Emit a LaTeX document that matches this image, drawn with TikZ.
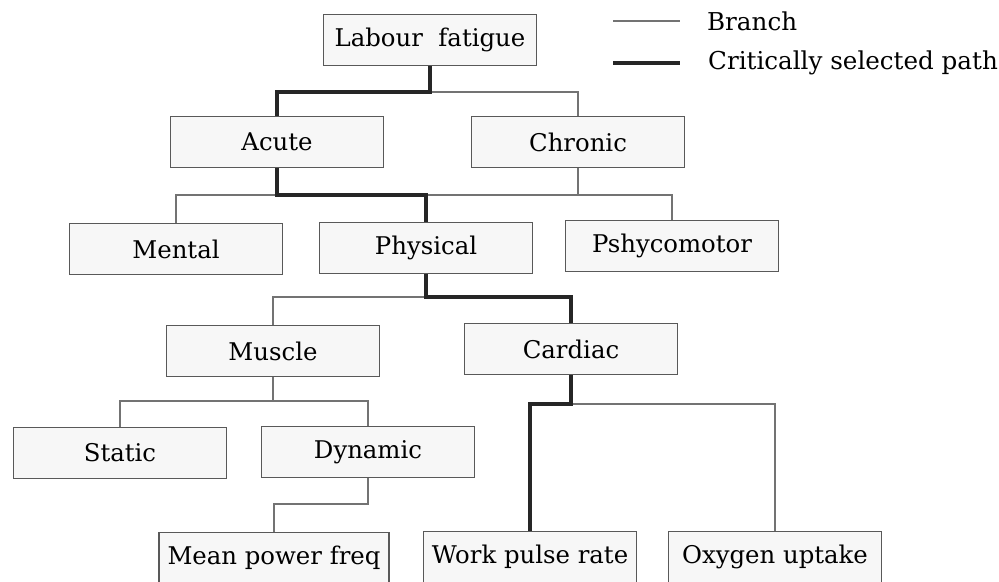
\documentclass[tikz,border=0pt]{standalone}
\usepackage{fontspec}
\setmainfont{DejaVu Serif}
\usetikzlibrary{calc}

\tikzset{
  box/.style={draw=black!65, fill=black!3, line width=0.6pt, minimum width=3.2cm, minimum height=0.76cm, inner sep=1pt, font=\fontsize{10.4}{12}\selectfont},
  branch/.style={draw=black!55, line width=0.5pt},
  critical/.style={draw=black!85, line width=1.4pt},
  legendtext/.style={right=8pt, anchor=west, font=\fontsize{10.5}{12}\selectfont}
}

\begin{document}
\begin{tikzpicture}[x=0.015cm, y=-0.015cm]
            \useasboundingbox (0,0) rectangle (999,581);

            % Boxes of the tree
            \node[box] (labour) at (430,40) {Labour\ \ fatigue};
            \node[box] (acute) at (277,142) {Acute};
            \node[box] (chronic) at (578,142) {Chronic};
            \node[box] (mental) at (176,249) {Mental};
            \node[box] (physical) at (426,248) {Physical};
            \node[box] (pshyco) at (672,246) {Pshycomotor};
            \node[box] (muscle) at (273,351) {Muscle};
            \node[box] (cardiac) at (571,349) {Cardiac};
            \node[box] (static) at (120,453) {Static};
            \node[box] (dynamic) at (368,452) {Dynamic};
            \node[box, minimum width=3.45cm] (meanpf) at (274,558) {Mean power freq};
            \node[box] (work) at (530,557) {Work pulse rate};
            \node[box] (oxygen) at (775,557) {Oxygen uptake};

            % Junctions
            \coordinate (j1) at (430,92);
            \coordinate (j2) at (277,195);
            \coordinate (j3) at (578,195);
            \coordinate (j4) at (426,297);
            \coordinate (j5) at (273,401);
            \coordinate (j6) at (368,504);
            \coordinate (j7) at (571,404);

            % Branches
            \draw[branch] (j1) -| (chronic.north);
            \draw[branch] (j2) -| (mental.north);
            \draw[branch] (chronic.south) -- (j3);
            \draw[branch] (j2) -| (pshyco.north);
            \draw[branch] (j4) -| (muscle.north);
            \draw[branch] (muscle.south) -- (j5) -| (static.north);
            \draw[branch] (j5) -| (dynamic.north);
            \draw[branch] (dynamic.south) -- (j6) -| (meanpf.north);
            \draw[branch] (j7) -| (oxygen.north);

            % Critically selected path
            \draw[critical] (labour.south) -- (j1) -| (acute.north);
            \draw[critical] (acute.south) -- (j2) -| (physical.north);
            \draw[critical] (physical.south) -- (j4) -| (cardiac.north);
            \draw[critical] (cardiac.south) -- (j7) -| (work.north);

            % Legend
            \coordinate (l1a) at (613,21);
            \coordinate (l1b) at (680,21);
            \coordinate (l2a) at (613,63);
            \coordinate (l2b) at (680,63);
            \draw[branch] (l1a) -- (l1b) node[legendtext] (lbranch) {Branch};
            \draw[critical] (l2a) -- (l2b) node[legendtext] (lcritical) {Critically selected path};
        \end{tikzpicture}
\end{document}
